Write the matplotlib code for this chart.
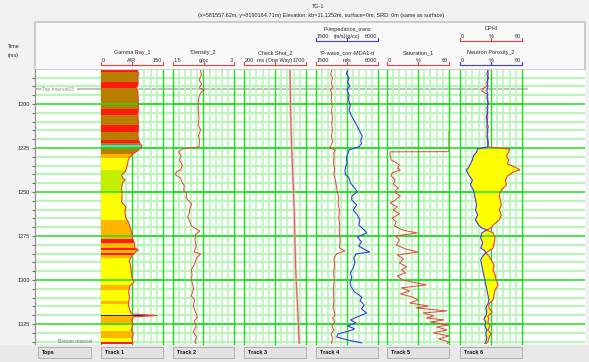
import numpy as np
import matplotlib
matplotlib.use('Agg')
import matplotlib.pyplot as plt
from matplotlib.patches import Rectangle, Polygon

plt.rcParams['font.family'] = ['Liberation Sans', 'DejaVu Sans']

# ---- data (two-way time in ms) ----
gr_t = [1180.7, 1183.0, 1185.2, 1188.6, 1190.9, 1193.2, 1197.7, 1202.3, 1206.3, 1209.1,
        1213.6, 1217.6, 1220.5, 1222.7, 1223.9, 1225.0, 1226.7, 1228.4, 1230.1, 1231.8,
        1234.7, 1236.4, 1238.6, 1240.3, 1242.0, 1243.2, 1244.9, 1247.7, 1251.7, 1255.7,
        1258.5, 1261.4, 1264.8, 1267.0, 1270.5, 1273.3, 1276.1, 1278.4, 1281.8, 1283.0,
        1284.1, 1286.4, 1289.2, 1292.0, 1295.5, 1298.9, 1301.1, 1303.4, 1306.8, 1310.2,
        1314.2, 1317.0, 1319.3, 1320.2, 1321.0, 1322.7, 1325.6, 1328.4, 1330.7, 1333.0, 1336.4]
gr_v = [88, 91, 89, 90, 86, 89, 90, 91, 89, 90,
        91, 89, 91, 95, 99, 97, 88, 77, 70, 66,
        64, 62, 58, 50, 52, 58, 52, 50, 51, 50,
        60, 58, 60, 66, 71, 74, 76, 80, 82, 90,
        84, 74, 68, 72, 73, 75, 80, 70, 67, 69,
        66, 70, 74, 135, 78, 74, 77, 73, 78, 75, 77]

lith_edges = [1180.7, 1182.0, 1187.5, 1190.9, 1202.8, 1206.3, 1211.9, 1215.9, 1220.5, 1222.2,
              1223.3, 1224.6, 1228.4, 1230.7, 1237.5, 1250.0, 1260.2, 1265.9, 1276.7, 1279.0,
              1281.8, 1283.0, 1284.5, 1285.8, 1287.5, 1302.8, 1305.7, 1312.0, 1313.5, 1319.9,
              1320.5, 1325.6, 1329.0, 1333.0, 1335.5, 1336.4]
lith_colors = ['red', 'brown', 'red', 'brown', 'red', 'brown', 'red', 'brown', 'red', 'brown',
               'cyan', 'brown', 'orange', 'yellow', 'lime', 'yellow', 'yellow', 'orange', 'red', 'orange',
               'red', 'orange', 'red', 'orange', 'yellow', 'orange', 'yellow', 'orange', 'yellow', 'navy',
               'orange', 'yellow', 'orange', 'yellow', 'red']
lith_rgb = {'red': '#ff1a10', 'brown': '#b97d00', 'cyan': '#33e6e6', 'orange': '#ffb400',
            'yellow': '#ffff00', 'lime': '#c4f000', 'navy': '#22227a'}

den_t = [1180.7, 1183.5, 1186.4, 1188.6, 1190.9, 1192.0, 1193.8, 1196.6, 1200.0, 1203.4,
         1208.0, 1211.9, 1214.8, 1217.6, 1221.0, 1224.4, 1225.6, 1227.3, 1229.5, 1231.8,
         1234.7, 1237.5, 1238.6, 1240.3, 1242.0, 1244.3, 1246.6, 1248.9, 1251.1, 1253.4,
         1256.8, 1259.1, 1261.9, 1264.2, 1267.0, 1269.3, 1272.2, 1274.4, 1277.3, 1280.7,
         1284.1, 1285.2, 1287.5, 1291.5, 1294.3, 1297.2, 1300.0, 1302.8, 1305.7, 1309.1,
         1311.4, 1314.8, 1318.2, 1321.0, 1323.3, 1326.1, 1329.5, 1332.4, 1334.7, 1336.4]
den_v = [2.17, 2.2, 2.14, 2.2, 2.15, 2.26, 2.18, 2.13, 2.12, 2.12,
         2.14, 2.12, 2.18, 2.13, 2.15, 2.14, 1.72, 1.64, 1.7, 1.66,
         1.73, 1.69, 1.58, 1.56, 1.68, 1.72, 1.78, 1.76, 1.84, 1.82,
         1.96, 1.92, 1.9, 1.86, 1.92, 1.95, 2.16, 2.05, 2.04, 2.07,
         2.02, 2.18, 2.08, 2.02, 1.95, 1.97, 1.95, 1.99, 2.0, 1.95,
         2.03, 2.0, 2.05, 2.1, 2.02, 2.07, 2.0, 2.08, 2.04, 2.06]

cs_t = [1180.7, 1195, 1210, 1225, 1240, 1250, 1260, 1275, 1290, 1300, 1315, 1325, 1336.4]
cs_v = [1313, 1322, 1335, 1352, 1380, 1398, 1415, 1430, 1445, 1462, 1495, 1515, 1535]

vp_t = [1180.7, 1183.0, 1185.2, 1188.1, 1190.3, 1192.0, 1194.3, 1197.7, 1201.1, 1204.5,
        1208.0, 1211.4, 1214.8, 1218.2, 1221.6, 1223.9, 1225.0, 1226.1, 1227.8, 1230.1,
        1233.0, 1236.4, 1239.8, 1243.2, 1246.6, 1250.0, 1253.4, 1256.8, 1260.2, 1264.8,
        1268.8, 1272.7, 1277.3, 1281.8, 1283.5, 1285.2, 1287.5, 1291.5, 1295.5, 1300.0,
        1305.7, 1311.4, 1315.9, 1319.9, 1321.6, 1323.9, 1326.1, 1328.4, 1330.7, 1333.0, 1336.4]
vp_v = [2650, 2560, 2700, 2600, 2720, 2550, 2650, 2600, 2680, 2620,
        2700, 2640, 2690, 2620, 2700, 2560, 2500, 2900, 2780, 2820,
        2760, 2850, 2800, 2900, 2980, 3050, 3150, 3100, 3200, 3150,
        3220, 3180, 3250, 3200, 3600, 3000, 2800, 2850, 2780, 2820,
        2760, 2800, 2750, 2880, 2700, 2850, 2650, 2780, 2600, 2700, 2620]

ip_t = [1180.7, 1183.0, 1185.2, 1187.5, 1189.8, 1192.0, 1194.9, 1197.7, 1200.6, 1203.4,
        1206.3, 1208.5, 1211.4, 1213.6, 1215.9, 1218.2, 1220.5, 1222.7, 1224.4, 1226.1,
        1228.4, 1230.7, 1233.5, 1235.8, 1238.1, 1240.3, 1242.0, 1244.9, 1247.7, 1250.0,
        1252.3, 1254.5, 1257.4, 1260.2, 1263.1, 1265.9, 1268.8, 1271.6, 1273.3, 1275.6,
        1278.4, 1280.7, 1283.0, 1284.1, 1285.2, 1287.5, 1290.3, 1293.2, 1296.0, 1298.9,
        1301.7, 1304.0, 1306.8, 1309.7, 1311.9, 1314.2, 1316.5, 1318.8, 1321.0, 1322.7,
        1324.4, 1326.1, 1327.8, 1329.0, 1330.7, 1332.4, 1334.1, 1335.8]
ip_v = [3800, 3700, 3900, 3800, 3950, 3750, 3900, 3850, 4000, 3900,
        4050, 4200, 4400, 4550, 4700, 4850, 4750, 4800, 4600, 3900,
        3800, 3700, 3750, 3650, 3600, 3650, 3900, 4000, 4300, 4500,
        4100, 4090, 4450, 4200, 4500, 4690, 4600, 5000, 5180, 4500,
        4800, 4600, 5100, 5400, 4400, 4250, 4330, 4200, 4000, 4090,
        3970, 4050, 4300, 4820, 4700, 5000, 4800, 5180, 4500, 4000,
        4400, 3800, 4300, 3900, 3100, 3000, 3800, 4820]

sat_t = [1215.7, 1227.1, 1227.2, 1229.0, 1231.8, 1233.5, 1234.7, 1236.4, 1237.5, 1239.2,
         1240.9, 1243.2, 1245.5, 1247.7, 1250.0, 1252.3, 1254.5, 1256.3, 1258.5, 1260.2,
         1262.5, 1264.8, 1267.0, 1269.3, 1271.6, 1273.3, 1275.0, 1277.3, 1280.1, 1282.4,
         1284.1, 1285.8, 1288.1, 1290.3, 1292.6, 1294.3, 1296.0, 1297.7, 1300.0, 1302.8,
         1304.5, 1306.3, 1308.0, 1309.7, 1311.4, 1313.1, 1314.8, 1315.9, 1317.6, 1318.8,
         1320.5, 1321.6, 1322.7, 1323.9, 1325.6, 1326.7, 1328.4, 1330.1, 1331.8, 1333.5,
         1335.2, 1336.4]
sat_v = [60, 60, 3, 3, 4, 9, 12, 10, 13, 5,
         4, 8, 6, 11, 7, 13, 8, 3, 10, 6,
         12, 5, 9, 7, 15, 29, 8, 12, 9, 18,
         30, 10, 16, 12, 19, 14, 18, 10, 15, 38,
         14, 22, 13, 25, 30, 22, 40, 28, 58, 35,
         45, 38, 55, 42, 60, 48, 58, 45, 60, 50,
         60, 58]

por_t = [1180.7, 1183.0, 1185.2, 1187.5, 1189.8, 1191.5, 1192.6, 1194.3, 1196.6, 1199.4,
         1202.3, 1204.5, 1207.4, 1210.2, 1213.1, 1215.9, 1218.8, 1221.6, 1224.4, 1225.6,
         1227.3, 1229.5, 1231.8, 1234.1, 1236.4, 1237.5, 1238.6, 1240.9, 1243.2, 1246.0,
         1248.9, 1251.7, 1254.5, 1257.4, 1260.2, 1263.1, 1265.9, 1268.8, 1270.5, 1271.6,
         1273.3, 1276.1, 1279.0, 1281.8, 1283.5, 1284.7, 1286.4, 1288.6, 1291.5, 1294.3,
         1297.2, 1300.0, 1302.8, 1305.7, 1308.5, 1311.4, 1313.6, 1315.9, 1318.2, 1320.5,
         1322.2, 1323.9, 1326.1, 1328.4, 1330.7, 1333.0, 1335.2, 1336.4]
nphi_v = [27, 26, 27.5, 26, 27, 26.5, 26, 27, 26, 27.5,
          26, 27, 25.5, 26.5, 26, 27, 26, 27.5, 27, 17,
          16, 13, 12, 10, 8, 6, 7, 9, 12, 10,
          13, 14, 15, 16, 15, 17, 15, 18, 21, 26,
          21, 20, 22, 20, 24, 25, 22, 20, 21, 22,
          23, 24, 25, 26, 27, 28, 27, 25, 26, 25,
          23, 25, 24, 26, 25, 26, 25, 24]
dphi_v = [27, 27.5, 26.5, 27, 26, 22, 21, 26, 27, 26.5,
          27, 26, 27, 26, 27.5, 26, 27, 26.5, 27, 48,
          47, 45, 47, 46, 55, 58, 52, 46, 44, 45,
          40, 38, 39, 40, 38, 40, 38, 32, 30, 26,
          32, 34, 33, 32, 28, 25, 28, 30, 33, 32,
          34, 35, 37, 34, 33, 32, 28, 28, 31, 27,
          28, 27, 29, 27, 30, 28, 27, 25]

top_name, top_time = 'Top Interval03', 1191.5
time_ticks = [1200, 1225, 1250, 1275, 1300, 1325]
T_TOP, T_BOT = 1180.7, 1336.4

# ---- layout helpers ----
W, H = 589, 362
fig = plt.figure(figsize=(W / 100, H / 100), dpi=100, facecolor='#f1f1f1')

def px_axes(x0, x1, y0, y1):
    return fig.add_axes([x0 / W, 1 - y1 / H, (x1 - x0) / W, (y1 - y0) / H])

RED, BLUE = '#e8403c', '#3a3ae8'
G_MAJ, G_MIN = '#19e019', '#b9f5b9'
TXT = '#2a2a2a'
FS = 4

tracks = [(101, 163), (173, 234), (244, 306), (316, 378), (387, 449), (460, 522)]

over = px_axes(0, W, 0, H)
over.set_xlim(0, W)
over.set_ylim(H, 0)
over.axis('off')
over.add_patch(Rectangle((35, 22), 550, 48, fc='#f8f8f8', ec='#c4c4c4', lw=1.2))
over.add_patch(Rectangle((0, 345), W, 17, fc='#e9e9e9', ec='none'))
over.text(318, 7, 'TG-1', ha='center', va='center', fontsize=FS, color=TXT)
over.text(321, 16, '(x=581557.62m, y=8190164.71m) Elevation: kb=11.1252m, surface=0m, SRD: 0m (same as surface)',
          ha='center', va='center', fontsize=FS, color=TXT)
over.text(8, 47, 'Time', ha='left', va='center', fontsize=FS, color=TXT)
over.text(8, 55, '(ms)', ha='left', va='center', fontsize=FS, color=TXT)

tab_names = ['Tops', 'Track 1', 'Track 2', 'Track 3', 'Track 4', 'Track 5', 'Track 6']
for name, (x0, x1) in zip(tab_names, [(38, 91)] + tracks):
    over.add_patch(Rectangle((x0, 347), x1 - x0, 11, fc='#e2e2e2', ec='#a8a8a8', lw=0.6))
    over.text(x0 + 4, 352.5, name, ha='left', va='center', fontsize=FS, color='#111111',
              fontweight='bold')

# header entries: track index, row (0 lower / 1 upper), name, left, unit, right, colour
headers = [(0, 0, 'Gamma Ray_1', '0', 'A/R', '150', RED),
           (1, 0, '*Density_2', '1.5', 'g/cc', '3', RED),
           (2, 0, 'Check Shot_2', '200', 'ms (One Way)', '1700', RED),
           (3, 0, '*P-wave_corr-MDA1-ti', '1500', 'm/s', '6000', RED),
           (3, 1, 'P-impedance_trans', '1500', '(m/s)(g/cc)', '6000', BLUE),
           (4, 0, 'Saturation_1', '0', '%', '60', RED),
           (5, 0, 'Neutron Porosity_2', '0', '%', '60', BLUE),
           (5, 1, 'DPHI', '0', '%', '60', RED)]
for idx, row, name, lo, unit, hi, col in headers:
    x0, x1 = tracks[idx]
    xm = (x0 + x1) / 2
    yn, ys, yb = (54, 62, 65) if row == 0 else (30.5, 38, 41)
    over.text(xm, yn, name, ha='center', va='baseline', fontsize=FS, color=TXT)
    over.text(x0 + 1, ys, lo, ha='left', va='baseline', fontsize=FS, color=TXT)
    over.text(xm, ys, unit, ha='center', va='baseline', fontsize=FS, color=TXT)
    over.text(x1 - 1, ys, hi, ha='right', va='baseline', fontsize=FS, color=TXT)
    over.plot([x0, x1], [yb, yb], color=col, lw=0.8)
    for xt in (x0, xm, x1):
        over.plot([xt, xt], [yb - 3.5, yb], color=col, lw=0.8)

# ---- background time grid ----
bg = px_axes(35, 585, 70, 344)
bg.set_facecolor('white')
bg.set_xlim(0, 1)
bg.set_ylim(T_BOT, T_TOP)
for t in np.arange(1185, 1336, 5):
    if t % 25 == 0:
        bg.axhline(t, color=G_MAJ, lw=1.1, zorder=1)
    else:
        bg.axhline(t, color=G_MIN, lw=1.6, zorder=0.5)
for s in ['top', 'right', 'bottom']:
    bg.spines[s].set_visible(False)
bg.spines['left'].set_color('#8a8a8a')
bg.spines['left'].set_linewidth(0.8)
bg.set_xticks([])
bg.set_yticks(time_ticks)
bg.set_yticks(np.arange(1185, 1336, 5), minor=True)
bg.tick_params(axis='y', which='both', direction='out', length=2.5, width=0.6,
               colors='#555555', labelsize=FS, pad=1)
bg.tick_params(axis='y', labelcolor=TXT)
bg.axhline(top_time, xmin=0.0, xmax=0.01, color='#b4b4b4', lw=1.2, zorder=5)
bg.axhline(top_time, xmin=0.078, xmax=0.895, color='#b4b4b4', lw=1.2, zorder=5)
bg.text(0.012, top_time, top_name, transform=bg.get_yaxis_transform(), fontsize=3.6,
        color='#8c8c8c', ha='left', va='center')
bg.text(0.104, 1335.0, 'Bottom Interval', transform=bg.get_yaxis_transform(), fontsize=3.6,
        color='#7a7a7a', ha='right', va='center')

scales = [(0, 150), (1.5, 3), (200, 1700), (1500, 6000), (0, 60), (0, 60)]
axes = []
for (x0, x1), (lo, hi) in zip(tracks, scales):
    ax = px_axes(x0, x1, 70, 344)
    ax.set_facecolor('none')
    ax.set_xlim(lo, hi)
    ax.set_ylim(T_BOT, T_TOP)
    ax.axis('off')
    for k in range(11):
        xv = lo + k * (hi - lo) / 10
        if k in (0, 5, 10):
            ax.axvline(xv, color=G_MAJ, lw=1.0, zorder=0.8, clip_on=False)
        else:
            ax.axvline(xv, color=G_MIN, lw=1.2, zorder=0.5)
    for t in time_ticks:
        ax.axhline(t, color=G_MAJ, lw=1.1, zorder=2)
    axes.append(ax)

# track 1: gamma ray with lithology colour fill
ax = axes[0]
clip = Polygon([(0, gr_t[0])] + list(zip(gr_v, gr_t)) + [(0, gr_t[-1])], closed=True,
               transform=ax.transData, fc='none', ec='none')
ax.add_patch(clip)
for top, base, c in zip(lith_edges[:-1], lith_edges[1:], lith_colors):
    span = ax.axhspan(top, base, color=lith_rgb[c], lw=0, zorder=1.5)
    span.set_clip_path(clip)
ax.plot(gr_v, gr_t, color=RED, lw=0.8, zorder=3)

# track 2: density
axes[1].plot(den_v, den_t, color=RED, lw=0.7, zorder=3)

# track 3: check shot
axes[2].plot(cs_v, cs_t, color='#f5b0b0', lw=1.6, zorder=2.5)
axes[2].plot(cs_v, cs_t, color='#d85050', lw=0.6, zorder=3)

# track 4: p-wave and impedance
axes[3].plot(vp_v, vp_t, color=RED, lw=0.7, zorder=3)
axes[3].plot(ip_v, ip_t, color=BLUE, lw=0.8, zorder=3)

# track 5: saturation
axes[4].plot(sat_v, sat_t, color=RED, lw=0.7, zorder=3)

# track 6: neutron porosity and DPHI with crossover fill
nphi = np.array(nphi_v)
dphi = np.array(dphi_v)
axes[5].fill_betweenx(por_t, nphi, dphi, where=dphi > nphi, interpolate=True,
                      color='#ffff00', lw=0, zorder=1.5)
axes[5].plot(dphi, por_t, color=RED, lw=0.8, zorder=3)
axes[5].plot(nphi, por_t, color=BLUE, lw=0.8, zorder=3.1)

fig.savefig('out.png', dpi=100, facecolor=fig.get_facecolor())
